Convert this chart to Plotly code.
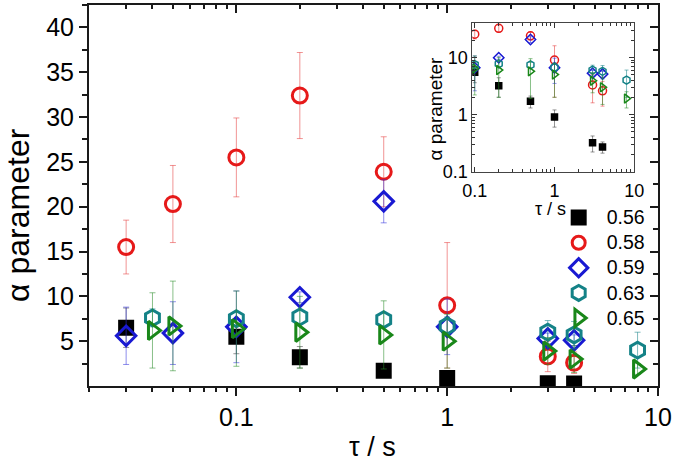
import plotly.graph_objects as go

# ---------------- data ----------------
series_labels = ["0.56", "0.58", "0.59", "0.63", "0.65"]

tau_056 = [0.03, 0.1, 0.2, 0.5, 1, 3, 4]
alpha_056 = [6.5, 5.5, 3.2, 1.7, 0.9, 0.32, 0.27]
err_056 = [2.2, 1.9, 1.2, 0.4, 0.3, 0.1, 0.06]

tau_058 = [0.03, 0.05, 0.1, 0.2, 0.5, 1, 3, 4]
alpha_058 = [15.5, 20.3, 25.5, 32.4, 23.9, 9.0, 3.3, 2.6]
err_058 = [3.0, 4.3, 4.4, 4.8, 3.9, 7.0, 1.7, 1.2]

tau_059 = [0.03, 0.05, 0.1, 0.2, 0.5, 1, 3, 4]
alpha_059 = [5.6, 5.9, 6.6, 9.9, 20.6, 6.6, 5.3, 5.1]
err_059 = [3.2, 3.5, 4.0, 0.6, 2.4, 3.1, 0.6, 0.6]

tau_063 = [0.04, 0.1, 0.2, 0.5, 1, 3, 4, 8]
alpha_063 = [7.6, 7.5, 7.7, 7.4, 6.7, 6.0, 5.7, 4.0]
err_063 = [1.0, 0.8, 0.8, 0.8, 1.0, 1.3, 1.5, 2.0]

tau_065 = [0.04, 0.05, 0.1, 0.2, 0.5, 1, 3, 4, 8]
alpha_065 = [6.2, 6.7, 6.4, 6.0, 5.7, 5.0, 3.9, 3.0, 1.9]
err_065 = [4.2, 5.0, 4.2, 4.0, 3.8, 3.0, 1.5, 1.5, 0.6]

main_x_ticks = [0.1, 1, 10]
main_x_ticktext = ["0.1", "1", "10"]
main_y_ticks = [5, 10, 15, 20, 25, 30, 35, 40]
inset_ticks = [0.1, 1, 10]
inset_ticktext = ["0.1", "1", "10"]

# ---------------- styles ----------------
FONT = "Arial, 'Liberation Sans', sans-serif"
styles = [
    dict(symbol="square", color="black", err="rgba(60,60,60,0.55)"),
    dict(symbol="circle-open", color="rgb(230,25,25)", err="rgba(230,60,60,0.55)"),
    dict(symbol="diamond-open", color="rgb(25,25,210)", err="rgba(50,50,220,0.55)"),
    dict(symbol="hexagon-open", color="rgb(20,130,135)", err="rgba(20,130,135,0.55)"),
    dict(symbol="triangle-right-open", color="rgb(25,135,25)", err="rgba(40,140,40,0.55)"),
]
main_sizes = [13, 15, 15, 16, 16]
legend_sizes = [13, 13, 14, 15, 15]
inset_sizes = [6, 8, 8, 8, 8]

data = [
    (tau_056, alpha_056, err_056),
    (tau_058, alpha_058, err_058),
    (tau_059, alpha_059, err_059),
    (tau_063, alpha_063, err_063),
    (tau_065, alpha_065, err_065),
]

fig = go.Figure()

# main traces
for (x, y, e), st, sz in zip(data, styles, main_sizes):
    fig.add_trace(go.Scatter(
        x=x, y=y, mode="markers", xaxis="x", yaxis="y", showlegend=False,
        marker=dict(symbol=st["symbol"], size=sz, color=st["color"],
                    line=dict(width=3, color=st["color"])),
        error_y=dict(type="data", array=e, color=st["err"], thickness=1, width=3),
    ))

# inset traces
for (x, y, e), st, sz in zip(data, styles, inset_sizes):
    fig.add_trace(go.Scatter(
        x=x, y=y, mode="markers", xaxis="x2", yaxis="y2", showlegend=False,
        marker=dict(symbol=st["symbol"], size=sz, color=st["color"],
                    line=dict(width=1.5, color=st["color"])),
        error_y=dict(type="data", array=e, color=st["err"], thickness=1, width=2),
    ))

# legend entries
for lab, st, sz in zip(series_labels, styles, legend_sizes):
    fig.add_trace(go.Scatter(
        x=[None], y=[None], mode="markers", xaxis="x", yaxis="y",
        name='<span style="font-size:19.5px">' + lab + "</span>",
        marker=dict(symbol=st["symbol"], size=sz, color=st["color"],
                    line=dict(width=3, color=st["color"])),
    ))

# empty trace to anchor mirrored tick axes
fig.add_trace(go.Scatter(x=[None], y=[None], xaxis="x3", yaxis="y3",
                         showlegend=False, hoverinfo="skip"))

minor_x_main = [0.02, 0.03, 0.04, 0.05, 0.06, 0.07, 0.08, 0.09,
                0.2, 0.3, 0.4, 0.5, 0.6, 0.7, 0.8, 0.9,
                2, 3, 4, 5, 6, 7, 8, 9]
minor_y_main = [2.5, 7.5, 12.5, 17.5, 22.5, 27.5, 32.5, 37.5, 42.5]
minor_inset_x = [0.2, 0.3, 0.4, 0.5, 0.6, 0.7, 0.8, 0.9, 2, 3, 4, 5, 6, 7, 8, 9]
minor_inset_y = [0.2, 0.3, 0.4, 0.5, 0.6, 0.7, 0.8, 0.9, 2, 3, 4, 5, 6, 7, 8, 9, 20, 30, 40]

XR = [-1.699, 1.0]
YR = [0, 42.5]
AX = "#1a1a1a"

fig.update_layout(
    width=675, height=462,
    margin=dict(l=89, r=17, t=3, b=76),
    paper_bgcolor="white", plot_bgcolor="white",
    font=dict(family=FONT, color="black"),
    xaxis=dict(type="log", range=XR, domain=[0, 1], anchor="y",
               tickmode="array", tickvals=main_x_ticks, ticktext=main_x_ticktext,
               ticks="outside", ticklen=8, tickwidth=2, tickcolor=AX,
               minor=dict(tickmode="array", tickvals=minor_x_main, ticks="outside",
                          ticklen=4, tickwidth=1.5, tickcolor=AX),
               showline=True, linecolor=AX, linewidth=2, mirror=True,
               showgrid=False, zeroline=False, tickfont=dict(size=25)),
    yaxis=dict(range=YR, domain=[0, 1], anchor="x",
               tickmode="array", tickvals=main_y_ticks,
               ticks="outside", ticklen=8, tickwidth=2, tickcolor=AX,
               minor=dict(tickmode="array", tickvals=minor_y_main, ticks="outside",
                          ticklen=5, tickwidth=1.5, tickcolor=AX),
               showline=True, linecolor=AX, linewidth=2, mirror=True,
               showgrid=False, zeroline=False, tickfont=dict(size=25)),
    xaxis3=dict(type="log", range=XR, overlaying="x", side="top", anchor="y",
                tickmode="array", tickvals=main_x_ticks, showticklabels=False,
                ticks="inside", ticklen=8, tickwidth=2, tickcolor=AX,
                minor=dict(tickmode="array", tickvals=minor_x_main, ticks="inside",
                           ticklen=4, tickwidth=1.5, tickcolor=AX),
                showline=False, showgrid=False, zeroline=False),
    yaxis3=dict(range=YR, overlaying="y", side="right", anchor="x",
                tickmode="array", tickvals=main_y_ticks, showticklabels=False,
                ticks="inside", ticklen=8, tickwidth=2, tickcolor=AX,
                minor=dict(tickmode="array", tickvals=minor_y_main, ticks="inside",
                           ticklen=5, tickwidth=1.5, tickcolor=AX),
                showline=False, showgrid=False, zeroline=False),
    xaxis2=dict(type="log", range=[-1.03, 1.0], domain=[0.6737, 0.9583], anchor="y2",
                tickmode="array", tickvals=inset_ticks, ticktext=inset_ticktext,
                ticks="inside", ticklen=5, tickwidth=1, tickcolor="#333",
                minor=dict(tickmode="array", tickvals=minor_inset_x, ticks="inside",
                           ticklen=3, tickwidth=1, tickcolor="#333"),
                showline=True, linecolor="#444", linewidth=1, mirror="ticks",
                showgrid=False, zeroline=False, tickfont=dict(size=18),
                ticklabelstandoff=2),
    yaxis2=dict(type="log", range=[-1.01, 1.61], domain=[0.5614, 0.9538], anchor="x2",
                tickmode="array", tickvals=inset_ticks, ticktext=inset_ticktext,
                ticks="inside", ticklen=5, tickwidth=1, tickcolor="#333",
                minor=dict(tickmode="array", tickvals=minor_inset_y, ticks="inside",
                           ticklen=3, tickwidth=1, tickcolor="#333"),
                showline=True, linecolor="#444", linewidth=1, mirror="ticks",
                showgrid=False, zeroline=False, tickfont=dict(size=18)),
    legend=dict(x=0.8114, y=0.488, xanchor="left", yanchor="top",
                bgcolor="rgba(0,0,0,0)", font=dict(size=17, family=FONT),
                tracegroupgap=0, itemwidth=46),
    shapes=[dict(type="line", xref="x2 domain", yref="y2", x0=0, x1=1, y0=1, y1=1,
                 line=dict(color="#9a9a9a", width=1), layer="below")],
    annotations=[
        dict(text="α parameter", xref="paper", yref="paper",
             x=(18 - 89) / 569, y=(386 - 214) / 383, xanchor="center", yanchor="middle",
             textangle=-90, showarrow=False, font=dict(size=32, family=FONT)),
        dict(text="τ / s", xref="paper", yref="paper",
             x=(372 - 89) / 569, y=(386 - 447) / 383, xanchor="center", yanchor="middle",
             showarrow=False, font=dict(size=27, family=FONT)),
        dict(text="α parameter", xref="paper", yref="paper",
             x=(435 - 89) / 569, y=(386 - 107) / 383, xanchor="center", yanchor="middle",
             textangle=-90, showarrow=False, font=dict(size=19, family=FONT)),
        dict(text="τ / s", xref="paper", yref="paper",
             x=(550 - 89) / 569, y=(386 - 208) / 383, xanchor="center", yanchor="middle",
             showarrow=False, font=dict(size=18, family=FONT)),
    ],
)

fig.write_html(
    "out.html",
    config={"displayModeBar": False},
    post_script="document.body.style.margin='0';document.body.style.overflow='hidden';",
)
